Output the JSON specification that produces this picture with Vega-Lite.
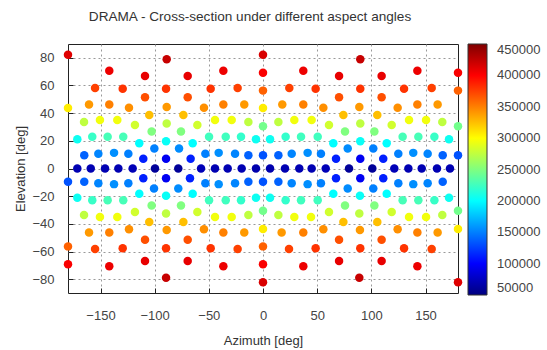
{
"$schema": "https://vega.github.io/schema/vega-lite/v6.json",
"width": 390, "height": 249,
"autosize": {"type": "none"},
"padding": {"left": 68, "top": 44, "right": 89, "bottom": 57},
"background": "white",
"title": {"text": "DRAMA - Cross-section under different aspect angles", "font": "Liberation Sans", "fontSize": 13.6, "fontWeight": "normal", "color": "#333", "anchor": "middle", "dx": -13, "offset": 20},
"data": {"values": [
{"az":-180,"el":82.2,"cs":412000},{"az":-88.9,"el":79,"cs":422000},{"az":0,"el":82.2,"cs":415000},{"az":89.8,"el":79,"cs":422000},
{"az":-141.9,"el":70.6,"cs":407000},{"az":-108.9,"el":66.9,"cs":409000},{"az":-69.5,"el":66.9,"cs":409000},{"az":-36.6,"el":70.6,"cs":407000},{"az":0,"el":69.2,"cs":402000},{"az":37.2,"el":70.6,"cs":407000},{"az":70.2,"el":66.9,"cs":409000},{"az":109.5,"el":66.9,"cs":409000},{"az":142.5,"el":70.6,"cs":407000},{"az":180,"el":69.2,"cs":402000},
{"az":-155,"el":58.2,"cs":375000},{"az":-129.5,"el":57.6,"cs":380000},{"az":-108.9,"el":51.5,"cs":369000},{"az":-89.5,"el":57.6,"cs":380000},{"az":-69.5,"el":51.5,"cs":369000},{"az":-48.3,"el":57.6,"cs":380000},{"az":-23.4,"el":58.2,"cs":375000},{"az":0,"el":56.3,"cs":362000},{"az":24.3,"el":58.2,"cs":375000},{"az":48.6,"el":57.6,"cs":380000},{"az":70.2,"el":51.5,"cs":369000},{"az":89.8,"el":57.6,"cs":380000},{"az":109.5,"el":51.5,"cs":369000},{"az":130.2,"el":57.6,"cs":380000},{"az":155.7,"el":58.2,"cs":375000},{"az":180,"el":56.3,"cs":362000},
{"az":-180,"el":43.8,"cs":307000},{"az":-160.6,"el":46.2,"cs":340000},{"az":-141.9,"el":46.2,"cs":350000},{"az":-123.7,"el":44,"cs":344000},{"az":-105,"el":38.6,"cs":325000},{"az":-88.9,"el":44.4,"cs":340000},{"az":-73.5,"el":38.6,"cs":325000},{"az":-54.5,"el":44,"cs":344000},{"az":-36.6,"el":46.2,"cs":350000},{"az":-17.3,"el":46.2,"cs":340000},{"az":0,"el":43.8,"cs":307000},{"az":17.8,"el":46.2,"cs":340000},{"az":37.2,"el":46.2,"cs":350000},{"az":55.7,"el":44,"cs":344000},{"az":74.2,"el":38.6,"cs":325000},{"az":88.9,"el":44.4,"cs":340000},{"az":105.5,"el":38.6,"cs":325000},{"az":124.3,"el":44,"cs":344000},{"az":142.5,"el":46.2,"cs":350000},{"az":161.2,"el":46.2,"cs":340000},
{"az":-165.2,"el":33.6,"cs":275000},{"az":-150.5,"el":35.1,"cs":295000},{"az":-134.5,"el":35.1,"cs":295000},{"az":-118.2,"el":31.5,"cs":282000},{"az":-102.8,"el":26.8,"cs":250000},{"az":-88.9,"el":32.5,"cs":275000},{"az":-75.7,"el":26.8,"cs":250000},{"az":-60.6,"el":31.5,"cs":282000},{"az":-44.3,"el":35.1,"cs":295000},{"az":-28.9,"el":35.1,"cs":295000},{"az":-13.5,"el":33.6,"cs":275000},{"az":0,"el":30.6,"cs":245000},{"az":14.2,"el":33.6,"cs":275000},{"az":28.9,"el":35.1,"cs":295000},{"az":44.9,"el":35.1,"cs":295000},{"az":60.9,"el":31.5,"cs":282000},{"az":75.7,"el":26.8,"cs":250000},{"az":89.8,"el":32.5,"cs":275000},{"az":102.8,"el":26.8,"cs":250000},{"az":118.8,"el":31.5,"cs":282000},{"az":134.8,"el":35.1,"cs":295000},{"az":150.5,"el":35.1,"cs":295000},{"az":165.5,"el":33.6,"cs":275000},{"az":180,"el":30.6,"cs":245000},
{"az":-171.4,"el":21.1,"cs":205000},{"az":-157.6,"el":23,"cs":222000},{"az":-143.4,"el":23,"cs":228000},{"az":-129,"el":23,"cs":228000},{"az":-114.2,"el":18.2,"cs":200000},{"az":-100.3,"el":14.5,"cs":150000},{"az":-89.5,"el":19.7,"cs":203000},{"az":-77.5,"el":14.5,"cs":155000},{"az":-64.9,"el":18.2,"cs":200000},{"az":-49.8,"el":23,"cs":225000},{"az":-34.4,"el":23,"cs":225000},{"az":-20.3,"el":23,"cs":220000},{"az":-6.5,"el":21.1,"cs":205000},{"az":6.5,"el":21.1,"cs":205000},{"az":20.9,"el":23,"cs":220000},{"az":35.1,"el":23,"cs":225000},{"az":50.5,"el":23,"cs":225000},{"az":64.9,"el":18.2,"cs":200000},{"az":78.2,"el":14.5,"cs":155000},{"az":89.8,"el":19.7,"cs":203000},{"az":101.8,"el":14.5,"cs":150000},{"az":114.2,"el":18.2,"cs":200000},{"az":128.9,"el":23,"cs":228000},{"az":143.4,"el":23,"cs":228000},{"az":158.2,"el":23,"cs":222000},{"az":171.7,"el":21.1,"cs":205000},
{"az":-165,"el":9.6,"cs":138000},{"az":-152,"el":10.7,"cs":152000},{"az":-137.5,"el":11.3,"cs":156000},{"az":-124.3,"el":10.7,"cs":150000},{"az":-110.5,"el":7.1,"cs":112000},{"az":-89.5,"el":7.1,"cs":95000},{"az":-66.8,"el":7.1,"cs":112000},{"az":-53.2,"el":10.7,"cs":150000},{"az":-40.9,"el":11.3,"cs":156000},{"az":-25.8,"el":10.7,"cs":152000},{"az":-13.5,"el":9.6,"cs":138000},{"az":0,"el":9.6,"cs":132000},{"az":14.2,"el":9.6,"cs":138000},{"az":26.5,"el":10.7,"cs":152000},{"az":41.2,"el":11.3,"cs":156000},{"az":53.5,"el":10.7,"cs":150000},{"az":67.4,"el":7.1,"cs":112000},{"az":89.8,"el":7.1,"cs":95000},{"az":111,"el":7.1,"cs":112000},{"az":124.9,"el":10.7,"cs":150000},{"az":138.7,"el":11.3,"cs":156000},{"az":152,"el":10.7,"cs":152000},{"az":165.9,"el":9.6,"cs":138000},{"az":180,"el":9.6,"cs":132000},
{"az":-171.4,"el":0,"cs":70000},{"az":-159,"el":0,"cs":70000},{"az":-145.8,"el":0,"cs":70000},{"az":-133.5,"el":0,"cs":70000},{"az":-120.3,"el":0,"cs":72000},{"az":-99.7,"el":0,"cs":60000},{"az":-78.2,"el":0,"cs":60000},{"az":-57.2,"el":0,"cs":72000},{"az":-44.3,"el":0,"cs":70000},{"az":-32.6,"el":0,"cs":70000},{"az":-19.7,"el":0,"cs":70000},{"az":-6.5,"el":0,"cs":68000},{"az":6.5,"el":0,"cs":68000},{"az":20.3,"el":0,"cs":70000},{"az":33.5,"el":0,"cs":70000},{"az":44.9,"el":0,"cs":70000},{"az":57.9,"el":0,"cs":72000},{"az":79.4,"el":0,"cs":60000},{"az":100.9,"el":0,"cs":60000},{"az":121.2,"el":0,"cs":72000},{"az":134.2,"el":0,"cs":70000},{"az":146.5,"el":0,"cs":70000},{"az":160.6,"el":0,"cs":70000},{"az":172.6,"el":0,"cs":70000},
{"az":-180,"el":-9.6,"cs":132000},{"az":-165,"el":-9.6,"cs":138000},{"az":-152,"el":-10.7,"cs":152000},{"az":-137.5,"el":-11.3,"cs":156000},{"az":-124.3,"el":-10.7,"cs":150000},{"az":-110.5,"el":-7.1,"cs":112000},{"az":-89.5,"el":-7.1,"cs":95000},{"az":-67.4,"el":-7.1,"cs":112000},{"az":-53.2,"el":-10.7,"cs":150000},{"az":-40.9,"el":-11.3,"cs":156000},{"az":-25.8,"el":-10.7,"cs":152000},{"az":-13.5,"el":-9.6,"cs":138000},{"az":0,"el":-9.6,"cs":132000},{"az":14.2,"el":-9.6,"cs":138000},{"az":26.5,"el":-10.7,"cs":152000},{"az":41.2,"el":-11.3,"cs":156000},{"az":53.5,"el":-10.7,"cs":150000},{"az":67.4,"el":-7.1,"cs":112000},{"az":89.8,"el":-7.1,"cs":95000},{"az":111,"el":-7.1,"cs":112000},{"az":124.9,"el":-10.7,"cs":150000},{"az":138.7,"el":-11.3,"cs":156000},{"az":152,"el":-10.7,"cs":152000},{"az":165.9,"el":-9.6,"cs":138000},
{"az":-171.4,"el":-21.1,"cs":205000},{"az":-157.6,"el":-23,"cs":222000},{"az":-143.4,"el":-23,"cs":228000},{"az":-129,"el":-23,"cs":228000},{"az":-114.2,"el":-18.2,"cs":200000},{"az":-100.6,"el":-14.5,"cs":150000},{"az":-89.5,"el":-19.7,"cs":203000},{"az":-78.2,"el":-14.5,"cs":155000},{"az":-64.9,"el":-18.2,"cs":200000},{"az":-49.8,"el":-23,"cs":225000},{"az":-34.4,"el":-23,"cs":225000},{"az":-20.3,"el":-23,"cs":220000},{"az":-6.5,"el":-21.1,"cs":205000},{"az":6.5,"el":-21.1,"cs":205000},{"az":20.9,"el":-23,"cs":220000},{"az":35.1,"el":-23,"cs":225000},{"az":50.5,"el":-23,"cs":225000},{"az":64.9,"el":-18.2,"cs":200000},{"az":78.2,"el":-14.5,"cs":155000},{"az":89.5,"el":-19.7,"cs":203000},{"az":101.8,"el":-14.5,"cs":150000},{"az":114.2,"el":-18.2,"cs":200000},{"az":128.9,"el":-23,"cs":228000},{"az":143.4,"el":-23,"cs":228000},{"az":158.2,"el":-23,"cs":222000},{"az":171.7,"el":-21.1,"cs":205000},
{"az":-165.2,"el":-33.6,"cs":275000},{"az":-150.5,"el":-35.1,"cs":295000},{"az":-134.5,"el":-35.1,"cs":295000},{"az":-118.2,"el":-31.5,"cs":282000},{"az":-102.8,"el":-26.8,"cs":250000},{"az":-89.5,"el":-32.5,"cs":275000},{"az":-75.7,"el":-26.8,"cs":250000},{"az":-60.6,"el":-31.5,"cs":282000},{"az":-44.3,"el":-35.1,"cs":295000},{"az":-28.9,"el":-35.1,"cs":295000},{"az":-13.5,"el":-33.6,"cs":275000},{"az":0,"el":-30.6,"cs":245000},{"az":14.2,"el":-33.6,"cs":275000},{"az":28.9,"el":-35.1,"cs":295000},{"az":44.3,"el":-35.1,"cs":295000},{"az":60.9,"el":-31.5,"cs":282000},{"az":75.7,"el":-26.8,"cs":250000},{"az":88.9,"el":-32.5,"cs":275000},{"az":102.8,"el":-26.8,"cs":250000},{"az":118.8,"el":-31.5,"cs":282000},{"az":134.8,"el":-35.1,"cs":295000},{"az":150.5,"el":-35.1,"cs":295000},{"az":165.5,"el":-33.6,"cs":275000},{"az":180,"el":-30.6,"cs":245000},
{"az":-160.6,"el":-46.2,"cs":340000},{"az":-141.9,"el":-46.2,"cs":350000},{"az":-123.7,"el":-44,"cs":344000},{"az":-105,"el":-38.6,"cs":325000},{"az":-88.9,"el":-44.4,"cs":340000},{"az":-73.5,"el":-38.6,"cs":325000},{"az":-54.5,"el":-44,"cs":344000},{"az":-36.6,"el":-46.2,"cs":350000},{"az":-17.3,"el":-46.2,"cs":340000},{"az":0,"el":-43.8,"cs":307000},{"az":17.2,"el":-46.2,"cs":340000},{"az":37.2,"el":-46.2,"cs":350000},{"az":55.7,"el":-44,"cs":344000},{"az":74.2,"el":-38.6,"cs":325000},{"az":89.5,"el":-44.4,"cs":340000},{"az":105.5,"el":-38.6,"cs":325000},{"az":124.3,"el":-44,"cs":344000},{"az":142.5,"el":-46.2,"cs":350000},{"az":161.2,"el":-46.2,"cs":340000},{"az":180,"el":-43.8,"cs":307000},
{"az":-180,"el":-56.3,"cs":362000},{"az":-155,"el":-58.2,"cs":375000},{"az":-129.5,"el":-57.6,"cs":380000},{"az":-108.9,"el":-51.5,"cs":369000},{"az":-89.5,"el":-57.6,"cs":380000},{"az":-69.5,"el":-51.5,"cs":369000},{"az":-48.3,"el":-57.6,"cs":380000},{"az":-23.4,"el":-58.2,"cs":375000},{"az":0,"el":-56.3,"cs":362000},{"az":24,"el":-58.2,"cs":375000},{"az":48.6,"el":-57.6,"cs":380000},{"az":70.2,"el":-51.5,"cs":369000},{"az":89.8,"el":-57.6,"cs":380000},{"az":109.5,"el":-51.5,"cs":369000},{"az":130.2,"el":-57.6,"cs":380000},{"az":155.7,"el":-58.2,"cs":375000},
{"az":-180,"el":-69.2,"cs":402000},{"az":-141.9,"el":-70.6,"cs":407000},{"az":-108.9,"el":-66.9,"cs":409000},{"az":-69.5,"el":-66.9,"cs":409000},{"az":-36.6,"el":-70.6,"cs":407000},{"az":0,"el":-69.2,"cs":402000},{"az":37.2,"el":-70.6,"cs":407000},{"az":70.2,"el":-66.9,"cs":409000},{"az":109.5,"el":-66.9,"cs":409000},{"az":142.5,"el":-70.6,"cs":407000},
{"az":-89.5,"el":-79,"cs":422000},{"az":0,"el":-82.2,"cs":415000},{"az":88.9,"el":-79,"cs":422000},{"az":180,"el":-82.2,"cs":412000}
]},
"mark": {"type": "circle", "size": 72, "opacity": 1, "clip": false},
"encoding": {
  "x": {"field": "az", "type": "quantitative", "scale": {"domain": [-180, 180], "nice": false, "zero": false},
        "axis": {"title": "Azimuth [deg]", "values": [-150, -100, -50, 0, 50, 100, 150], "labelPadding": 21, "titlePadding": 12}},
  "y": {"field": "el", "type": "quantitative", "scale": {"domain": [-90, 90], "nice": false, "zero": false},
        "axis": {"title": "Elevation [deg]", "values": [-80, -60, -40, -20, 0, 20, 40, 60, 80], "labelPadding": 19, "titlePadding": 4}},
  "color": {"field": "cs", "type": "quantitative",
        "scale": {"domain": [50000, 100000, 200000, 300000, 400000, 450000], "range": ["#00007f", "#0000ff", "#00ffff", "#ffff00", "#ff0000", "#7f0000"], "interpolate": "rgb"},
        "legend": {"title": null, "orient": "none", "legendX": 400, "legendY": 0, "direction": "vertical", "gradientLength": 251, "gradientThickness": 19, "values": [50000, 100000, 150000, 200000, 250000, 300000, 350000, 400000, 450000], "format": "d", "labelOffset": 10, "labelOverlap": false, "labelBaseline": "middle"}}
},
"config": {
  "view": {"stroke": "#222", "strokeWidth": 1},
  "axis": {"labelFont": "Liberation Sans", "labelFontSize": 13, "labelColor": "#444", "titleFont": "Liberation Sans", "titleFontSize": 13, "titleFontWeight": "normal", "titleColor": "#333", "grid": true, "gridColor": "#999", "gridDash": [2, 3], "gridOpacity": 1, "domain": false, "tickColor": "#222", "tickSize": -5},
  "legend": {"labelFont": "Liberation Sans", "labelFontSize": 13, "labelColor": "#444", "gradientStrokeColor": "#333", "gradientStrokeWidth": 1}
}
}
